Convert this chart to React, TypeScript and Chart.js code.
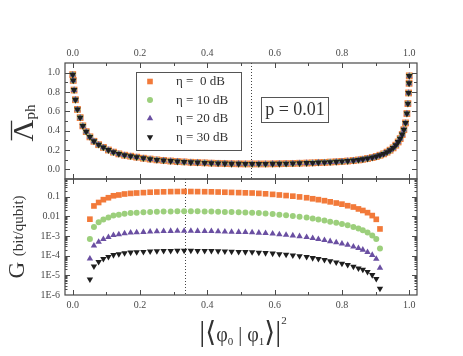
import React, { useEffect, useRef } from 'react';
import { Chart, registerables } from 'chart.js';

Chart.register(...registerables);

// ---------- data ----------
const overlap = [
  0, 0.0015, 0.004, 0.008, 0.014, 0.022, 0.03, 0.04, 0.051, 0.063, 0.077, 0.091, 0.106, 0.121, 0.137, 0.154, 0.172, 0.19,
  0.21, 0.23, 0.25, 0.27, 0.291, 0.311, 0.331, 0.351, 0.371, 0.392, 0.412, 0.432, 0.452, 0.472, 0.493, 0.513, 0.533, 0.553,
  0.573, 0.594, 0.614, 0.634, 0.654, 0.674,
  0.695, 0.713, 0.73, 0.748, 0.765, 0.783, 0.8, 0.817, 0.834, 0.849, 0.862, 0.876, 0.89, 0.902, 0.913, 0.924, 0.934, 0.943,
  0.952, 0.96, 0.967, 0.973, 0.979, 0.984, 0.989, 0.993, 0.996, 0.998, 0.9995, 1.0,
];

const lambda0 = [
  0.98, 0.92, 0.82, 0.72, 0.62, 0.535, 0.45, 0.39, 0.336, 0.29, 0.255, 0.227, 0.2, 0.178, 0.16, 0.146, 0.136, 0.126,
  0.115, 0.106, 0.098, 0.092, 0.086, 0.081, 0.077, 0.073, 0.07, 0.067, 0.064, 0.062, 0.06, 0.058, 0.057, 0.056, 0.056, 0.056,
  0.056, 0.057, 0.058, 0.059, 0.061, 0.063,
  0.065, 0.067, 0.07, 0.072, 0.075, 0.078, 0.082, 0.086, 0.091, 0.097, 0.104, 0.112, 0.122, 0.133, 0.146, 0.16, 0.178, 0.198,
  0.222, 0.25, 0.283, 0.318, 0.36, 0.41, 0.48, 0.577, 0.68, 0.79, 0.89, 0.967,
];
const lambda10 = [
  0.98, 0.92, 0.82, 0.72, 0.62, 0.535, 0.45, 0.39, 0.336, 0.29, 0.255, 0.227, 0.2, 0.178, 0.16, 0.146, 0.136, 0.126,
  0.115, 0.106, 0.098, 0.092, 0.086, 0.081, 0.077, 0.073, 0.07, 0.067, 0.064, 0.062, 0.06, 0.058, 0.057, 0.056, 0.056, 0.056,
  0.056, 0.057, 0.058, 0.059, 0.061, 0.063,
  0.065, 0.067, 0.07, 0.072, 0.075, 0.078, 0.082, 0.086, 0.091, 0.097, 0.104, 0.112, 0.122, 0.133, 0.146, 0.16, 0.178, 0.198,
  0.222, 0.25, 0.283, 0.318, 0.36, 0.41, 0.48, 0.577, 0.68, 0.79, 0.89, 0.967,
];
const lambda20 = [
  0.98, 0.92, 0.82, 0.72, 0.62, 0.535, 0.45, 0.39, 0.336, 0.29, 0.255, 0.227, 0.2, 0.178, 0.16, 0.146, 0.136, 0.126,
  0.115, 0.106, 0.098, 0.092, 0.086, 0.081, 0.077, 0.073, 0.07, 0.067, 0.064, 0.062, 0.06, 0.058, 0.057, 0.056, 0.056, 0.056,
  0.056, 0.057, 0.058, 0.059, 0.061, 0.063,
  0.065, 0.067, 0.07, 0.072, 0.075, 0.078, 0.082, 0.086, 0.091, 0.097, 0.104, 0.112, 0.122, 0.133, 0.146, 0.16, 0.178, 0.198,
  0.222, 0.25, 0.283, 0.318, 0.36, 0.41, 0.48, 0.577, 0.68, 0.79, 0.89, 0.967,
];
const lambda30 = [
  0.98, 0.92, 0.82, 0.72, 0.62, 0.535, 0.45, 0.39, 0.336, 0.29, 0.255, 0.227, 0.2, 0.178, 0.16, 0.146, 0.136, 0.126,
  0.115, 0.106, 0.098, 0.092, 0.086, 0.081, 0.077, 0.073, 0.07, 0.067, 0.064, 0.062, 0.06, 0.058, 0.057, 0.056, 0.056, 0.056,
  0.056, 0.057, 0.058, 0.059, 0.061, 0.063,
  0.065, 0.067, 0.07, 0.072, 0.075, 0.078, 0.082, 0.086, 0.091, 0.097, 0.104, 0.112, 0.122, 0.133, 0.146, 0.16, 0.178, 0.198,
  0.222, 0.25, 0.283, 0.318, 0.36, 0.41, 0.48, 0.577, 0.68, 0.79, 0.89, 0.967,
];

const gOverlap = [
  0.051, 0.063, 0.077, 0.091, 0.106, 0.121, 0.137, 0.154, 0.172, 0.19,
  0.21, 0.23, 0.25, 0.27, 0.291, 0.311, 0.331, 0.351, 0.371, 0.392, 0.412, 0.432, 0.452, 0.472, 0.493, 0.513, 0.533, 0.553,
  0.573, 0.594, 0.614, 0.634, 0.654, 0.674,
  0.695, 0.713, 0.73, 0.748, 0.765, 0.783, 0.8, 0.817, 0.834, 0.849, 0.862, 0.876, 0.89, 0.902, 0.913,
];
const g0 = [
  7.2e-3, 3.4e-2, 5.1e-2, 7.1e-2, 8.9e-2, 0.112, 0.123, 0.138, 0.148, 0.155,
  0.162, 0.17, 0.174, 0.178, 0.182, 0.184, 0.186, 0.184, 0.182, 0.18, 0.178, 0.174, 0.17, 0.166, 0.162, 0.158, 0.155, 0.148,
  0.141, 0.132, 0.123, 0.115, 0.107, 0.098,
  8.9e-2, 7.9e-2, 7.1e-2, 6.3e-2, 5.5e-2, 4.8e-2, 4.2e-2, 3.5e-2, 3.0e-2, 2.4e-2, 2.0e-2, 1.55e-2, 1.1e-2, 7.1e-3, 2.3e-3,
];
const g10 = [
  7.1e-4, 2.9e-3, 5.0e-3, 7.0e-3, 8.8e-3, 1.10e-2, 1.22e-2, 1.37e-2, 1.47e-2, 1.54e-2,
  1.61e-2, 1.68e-2, 1.73e-2, 1.77e-2, 1.80e-2, 1.83e-2, 1.85e-2, 1.83e-2, 1.81e-2, 1.79e-2, 1.77e-2, 1.73e-2, 1.69e-2,
  1.65e-2, 1.61e-2, 1.57e-2, 1.53e-2, 1.47e-2, 1.40e-2, 1.31e-2, 1.22e-2, 1.14e-2, 1.06e-2, 9.7e-3,
  8.8e-3, 7.8e-3, 7.0e-3, 6.2e-3, 5.4e-3, 4.7e-3, 4.1e-3, 3.5e-3, 2.9e-3, 2.4e-3, 2.0e-3, 1.53e-3, 1.08e-3, 7.0e-4, 2.3e-4,
];
const g20 = [
  7.0e-5, 3.2e-4, 5.0e-4, 7.0e-4, 8.8e-4, 1.10e-3, 1.22e-3, 1.37e-3, 1.47e-3, 1.53e-3,
  1.60e-3, 1.67e-3, 1.72e-3, 1.76e-3, 1.80e-3, 1.82e-3, 1.84e-3, 1.82e-3, 1.80e-3, 1.78e-3, 1.76e-3, 1.72e-3, 1.68e-3,
  1.64e-3, 1.60e-3, 1.56e-3, 1.53e-3, 1.46e-3, 1.39e-3, 1.31e-3, 1.22e-3, 1.14e-3, 1.06e-3, 9.7e-4,
  8.8e-4, 7.8e-4, 7.0e-4, 6.2e-4, 5.4e-4, 4.7e-4, 4.1e-4, 3.5e-4, 2.9e-4, 2.4e-4, 2.0e-4, 1.52e-4, 1.08e-4, 6.8e-5, 2.4e-5,
];
const g30 = [
  6.3e-6, 2.9e-5, 4.9e-5, 6.9e-5, 8.7e-5, 1.09e-4, 1.21e-4, 1.36e-4, 1.46e-4, 1.52e-4,
  1.59e-4, 1.66e-4, 1.71e-4, 1.75e-4, 1.79e-4, 1.81e-4, 1.83e-4, 1.81e-4, 1.79e-4, 1.77e-4, 1.75e-4, 1.71e-4, 1.67e-4,
  1.63e-4, 1.59e-4, 1.55e-4, 1.52e-4, 1.45e-4, 1.38e-4, 1.30e-4, 1.21e-4, 1.13e-4, 1.05e-4, 9.6e-5,
  8.7e-5, 7.7e-5, 6.9e-5, 6.1e-5, 5.3e-5, 4.6e-5, 4.0e-5, 3.4e-5, 2.8e-5, 2.3e-5, 1.95e-5, 1.5e-5, 1.05e-5, 6.6e-6, 2.1e-6,
];

const seriesLabels = ['η =  0 dB', 'η = 10 dB', 'η = 20 dB', 'η = 30 dB'];
const seriesColors = ['#f27a3a', '#9ccf7c', '#6a4fa2', '#1e1e1e'];
const xTickValues = [0, 0.2, 0.4, 0.6, 0.8, 1.0];
const lambdaTickValues = [0, 0.2, 0.4, 0.6, 0.8, 1.0];
const gTickValues = [1e-6, 1e-5, 1e-4, 1e-3, 1e-2, 1e-1];
const gTickLabels = ['1E-6', '1E-5', '1E-4', '1E-3', '0.01', '0.1'];
const annotationText = 'p = 0.01';
const markerTop = 0.53;
const markerBottom = 0.333;

// ---------- styling ----------
const SERIF = '"Liberation Serif", "DejaVu Serif", "DejaVu Sans", serif';
const AXIS = '#4a4a4a';
const TICK_FONT = { family: SERIF, size: 10 };

function pts(xs: number[], ys: number[]) {
  return xs.map((x, i) => ({ x, y: ys[i] }));
}

const topStyles = [
  { pointStyle: 'rect', pointRadius: 4.8, pointRotation: 0 },
  { pointStyle: 'circle', pointRadius: 3, pointRotation: 0 },
  { pointStyle: 'triangle', pointRadius: 3.7, pointRotation: 0 },
  { pointStyle: 'triangle', pointRadius: 3.9, pointRotation: 180 },
];
const botStyles = [
  { pointStyle: 'rect', pointRadius: 4, pointRotation: 0 },
  { pointStyle: 'circle', pointRadius: 3, pointRotation: 0 },
  { pointStyle: 'triangle', pointRadius: 3.7, pointRotation: 0 },
  { pointStyle: 'triangle', pointRadius: 3.7, pointRotation: 180 },
];

function drawMarker(ctx: CanvasRenderingContext2D, i: number, x: number, y: number) {
  ctx.fillStyle = seriesColors[i];
  ctx.beginPath();
  if (i === 0) {
    ctx.rect(x - 2.8, y - 2.8, 5.6, 5.6);
  } else if (i === 1) {
    ctx.arc(x, y, 3, 0, Math.PI * 2);
  } else if (i === 2) {
    ctx.moveTo(x, y - 3.7);
    ctx.lineTo(x + 3.2, y + 1.85);
    ctx.lineTo(x - 3.2, y + 1.85);
    ctx.closePath();
  } else {
    ctx.moveTo(x, y + 3.7);
    ctx.lineTo(x + 3.2, y - 1.85);
    ctx.lineTo(x - 3.2, y - 1.85);
    ctx.closePath();
  }
  ctx.fill();
}

const decorPlugin = {
  id: 'decor',
  beforeDatasetsDraw(chart: any) {
    const { ctx } = chart;
    const { x, yTop, yBot } = chart.scales;
    ctx.save();
    ctx.strokeStyle = '#444';
    ctx.lineWidth = 1;
    ctx.setLineDash([1, 2]);
    let px = Math.round(x.getPixelForValue(markerTop)) + 0.5;
    ctx.beginPath();
    ctx.moveTo(px, yTop.top);
    ctx.lineTo(px, yTop.bottom);
    ctx.stroke();
    px = Math.round(x.getPixelForValue(markerBottom)) + 0.5;
    ctx.beginPath();
    ctx.moveTo(px, yBot.top);
    ctx.lineTo(px, yBot.bottom);
    ctx.stroke();
    ctx.restore();
  },
  afterDatasetsDraw(chart: any) {
    const { ctx, chartArea } = chart;
    const { x, yTop, yBot } = chart.scales;
    const L = chartArea.left;
    const R = chartArea.right;
    ctx.save();
    ctx.strokeStyle = AXIS;
    ctx.lineWidth = 1.2;
    ctx.setLineDash([]);
    // frames
    for (const p of [yTop, yBot]) {
      ctx.strokeRect(L, p.top, R - L, p.bottom - p.top);
    }
    ctx.lineWidth = 1;
    const line = (x1: number, y1: number, x2: number, y2: number) => {
      ctx.beginPath();
      ctx.moveTo(x1, y1);
      ctx.lineTo(x2, y2);
      ctx.stroke();
    };
    // x ticks (major 0.2, minor 0.1), inward, on both panels
    for (let k = 0; k <= 10; k++) {
      const px = Math.round(x.getPixelForValue(k / 10)) + 0.5;
      const len = k % 2 === 0 ? 5 : 3;
      for (const p of [yTop, yBot]) {
        line(px, p.top, px, p.top + len);
        line(px, p.bottom, px, p.bottom - len);
      }
    }
    // top y ticks
    for (let k = -1; k <= 11; k++) {
      const py = Math.round(yTop.getPixelForValue(k / 10)) + 0.5;
      if (py < yTop.top + 1 || py > yTop.bottom - 1) continue;
      const len = k % 2 === 0 ? 5 : 3;
      line(L, py, L + len, py);
      line(R, py, R - len, py);
    }
    // log ticks
    for (let d = -6; d <= -1; d++) {
      for (let m = 1; m <= 9; m++) {
        const v = m * Math.pow(10, d);
        if (v > yBot.max) continue;
        const py = Math.round(yBot.getPixelForValue(v)) + 0.5;
        if (py < yBot.top + 1 || py > yBot.bottom - 1) continue;
        const len = m === 1 ? 5 : 2.5;
        line(L, py, L + len, py);
        line(R, py, R - len, py);
      }
    }

    // legend box
    const T = yTop.top;
    const lx = L + 71;
    const ly = T + 9;
    ctx.fillStyle = '#fff';
    ctx.fillRect(lx, ly, 105, 78);
    ctx.strokeStyle = '#555';
    ctx.lineWidth = 1;
    ctx.strokeRect(lx + 0.5, ly + 0.5, 105, 78);
    ctx.font = `13px ${SERIF}`;
    ctx.textBaseline = 'middle';
    ctx.textAlign = 'left';
    for (let i = 0; i < 4; i++) {
      const ry = ly + 9.5 + i * 18.5;
      drawMarker(ctx, i, L + 85, ry);
      ctx.fillStyle = '#333';
      ctx.fillText(seriesLabels[i], L + 111, ry + 0.5);
    }

    // annotation box
    const ax = L + 196;
    const ay = T + 34;
    ctx.fillStyle = '#fff';
    ctx.fillRect(ax, ay, 67, 25);
    ctx.strokeStyle = '#555';
    ctx.strokeRect(ax + 0.5, ay + 0.5, 67, 25);
    ctx.fillStyle = '#333';
    ctx.font = `18px ${SERIF}`;
    ctx.textAlign = 'center';
    ctx.fillText(annotationText, ax + 34, ay + 13.5);

    // y title top: Lambda-bar with subscript ph
    ctx.save();
    const cyTop = (yTop.top + yTop.bottom) / 2;
    ctx.translate(33, cyTop + 2);
    ctx.rotate(-Math.PI / 2);
    ctx.fillStyle = '#333';
    ctx.textAlign = 'left';
    ctx.textBaseline = 'alphabetic';
    ctx.font = `30px ${SERIF}`;
    const lamW = ctx.measureText('Λ').width;
    ctx.font = `15px ${SERIF}`;
    const phW = ctx.measureText('ph').width;
    const start = -(lamW + phW) / 2;
    ctx.font = `30px ${SERIF}`;
    ctx.fillText('Λ', start, 0);
    ctx.strokeStyle = '#333';
    ctx.lineWidth = 1.3;
    ctx.beginPath();
    ctx.moveTo(start + 1, -21.5);
    ctx.lineTo(start + lamW - 1, -21.5);
    ctx.stroke();
    ctx.font = `15px ${SERIF}`;
    ctx.fillText('ph', start + lamW, 2);
    ctx.restore();

    // y title bottom: G (bit/qubit)
    ctx.save();
    const cyBot = (yBot.top + yBot.bottom) / 2;
    ctx.translate(24, cyBot);
    ctx.rotate(-Math.PI / 2);
    ctx.fillStyle = '#333';
    ctx.textAlign = 'left';
    ctx.textBaseline = 'alphabetic';
    ctx.font = `23px ${SERIF}`;
    const gW = ctx.measureText('G ').width;
    ctx.font = `15px ${SERIF}`;
    const uW = ctx.measureText('(bit/qubit)').width;
    const s2 = -(gW + uW) / 2;
    ctx.font = `23px ${SERIF}`;
    ctx.fillText('G ', s2, 0);
    ctx.font = `15px ${SERIF}`;
    ctx.fillText('(bit/qubit)', s2 + gW, -1);
    ctx.restore();

    // x title: |<phi0 | phi1>|^2
    const parts = [
      { t: '|', s: 30, dy: 0 },
      { t: '⟨', s: 28, dy: 0 },
      { t: 'φ', s: 20, dy: 0 },
      { t: '0', s: 11, dy: 4 },
      { t: ' | ', s: 20, dy: 0 },
      { t: 'φ', s: 20, dy: 0 },
      { t: '1', s: 11, dy: 4 },
      { t: '⟩', s: 28, dy: 0 },
      { t: '|', s: 30, dy: 0 },
      { t: '2', s: 11, dy: -17 },
    ];
    let total = 0;
    const widths = parts.map((p) => {
      ctx.font = `${p.s}px ${SERIF}`;
      const w = ctx.measureText(p.t).width;
      total += w;
      return w;
    });
    let cx = (L + R) / 2 - total / 2 + 2;
    const base = yBot.bottom + 46;
    ctx.fillStyle = '#333';
    ctx.textAlign = 'left';
    ctx.textBaseline = 'alphabetic';
    parts.forEach((p, i) => {
      ctx.font = `${p.s}px ${SERIF}`;
      ctx.fillText(p.t, cx, base + p.dy);
      cx += widths[i];
    });

    ctx.restore();
  },
};

function fixedTicks(values: number[]) {
  return (scale: any) => {
    scale.ticks = values.map((v) => ({ value: v }));
  };
}

export default function App() {
  const ref = useRef<HTMLCanvasElement | null>(null);

  useEffect(() => {
    document.body.style.margin = '0';
    const canvas = ref.current;
    if (!canvas) return;

    const tops = [lambda0, lambda10, lambda20, lambda30];
    const bots = [g0, g10, g20, g30];
    const datasets: any[] = [];
    tops.forEach((ys, i) => {
      datasets.push({
        label: seriesLabels[i],
        data: pts(overlap, ys),
        xAxisID: 'x',
        yAxisID: 'yTop',
        backgroundColor: seriesColors[i],
        borderColor: seriesColors[i],
        pointBorderWidth: 0,
        order: 4 - i,
        ...topStyles[i],
      });
    });
    bots.forEach((ys, i) => {
      datasets.push({
        label: seriesLabels[i] + ' G',
        data: pts(gOverlap, ys),
        xAxisID: 'x',
        yAxisID: 'yBot',
        backgroundColor: seriesColors[i],
        borderColor: seriesColors[i],
        pointBorderWidth: 0,
        order: 4 - i,
        ...botStyles[i],
      });
    });

    const xCommon = {
      type: 'linear',
      min: -0.023,
      max: 1.023,
      afterBuildTicks: fixedTicks(xTickValues),
      grid: { display: false, drawTicks: false },
      border: { display: false },
    };

    const chart = new Chart(canvas, {
      type: 'scatter',
      data: { datasets },
      options: {
        animation: false,
        responsive: false,
        devicePixelRatio: 1,
        layout: { padding: { left: 0, right: 46, top: 0, bottom: 0 } },
        plugins: { legend: { display: false }, tooltip: { enabled: false } },
        scales: {
          x: {
            ...xCommon,
            position: 'bottom',
            ticks: {
              font: TICK_FONT,
              color: AXIS,
              padding: 4,
              maxRotation: 0,
              autoSkip: false,
              callback: (v: any) => Number(v).toFixed(1),
            },
            afterFit: (s: any) => {
              s.height = 61;
            },
          },
          xTop: {
            ...xCommon,
            position: 'top',
            ticks: {
              font: TICK_FONT,
              color: AXIS,
              padding: 4,
              maxRotation: 0,
              autoSkip: false,
              callback: (v: any) => Number(v).toFixed(1),
            },
            afterFit: (s: any) => {
              s.height = 63;
            },
          },
          yBot: {
            type: 'logarithmic',
            position: 'left',
            stack: 'panels',
            stackWeight: 1,
            min: 1e-6,
            max: 0.8,
            afterBuildTicks: fixedTicks(gTickValues),
            grid: { display: false, drawTicks: false },
            border: { display: false },
            ticks: {
              font: TICK_FONT,
              color: AXIS,
              padding: 5,
              callback: (v: any) => {
                const idx = gTickValues.findIndex((t) => Math.abs(Math.log10(t) - Math.log10(Number(v))) < 1e-6);
                return idx >= 0 ? gTickLabels[idx] : '';
              },
            },
            afterFit: (s: any) => {
              s.width = 65;
            },
          },
          yTop: {
            type: 'linear',
            position: 'left',
            stack: 'panels',
            stackWeight: 1,
            min: -0.1,
            max: 1.1,
            afterBuildTicks: fixedTicks(lambdaTickValues),
            grid: { display: false, drawTicks: false },
            border: { display: false },
            ticks: {
              font: TICK_FONT,
              color: AXIS,
              padding: 5,
              callback: (v: any) => Number(v).toFixed(1),
            },
            afterFit: (s: any) => {
              s.width = 65;
            },
          },
        },
      } as any,
      plugins: [decorPlugin],
    });

    return () => {
      chart.destroy();
    };
  }, []);

  return (
    <div style={{ width: 463, height: 356, background: '#fff' }}>
      <canvas ref={ref} width={463} height={356} style={{ display: 'block' }} />
    </div>
  );
}
